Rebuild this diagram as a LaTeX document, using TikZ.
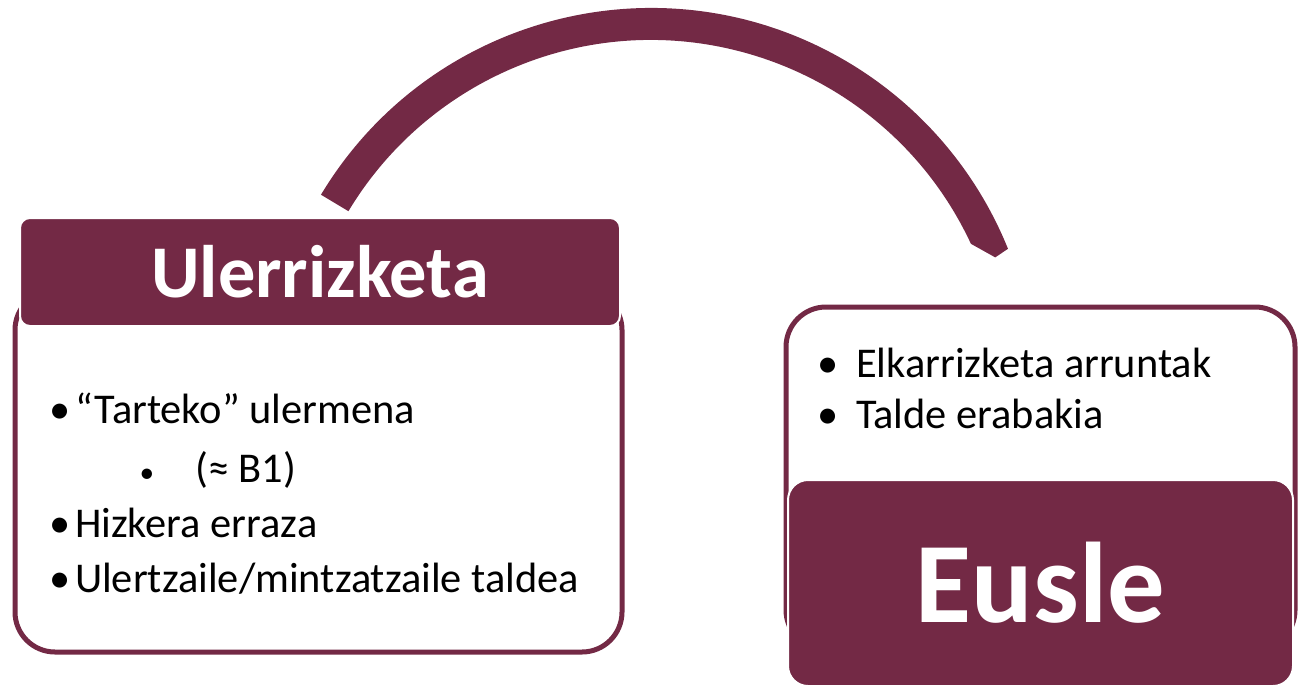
\documentclass[tikz,border=0pt]{standalone}
\usepackage{fontspec}
\setmainfont{Carlito}
\usepackage{tikz}
\usetikzlibrary{calc}

\definecolor{bordo}{RGB}{115,41,69}

\tikzset{
    panel/.style={draw=bordo, line width=3.75pt, rounded corners=30pt, fill=white},
    header/.style={draw=white, line width=1.5pt, fill=bordo, text=white, inner sep=0pt},
    item/.style={inner sep=0pt, font=\fontsize{31.8}{36}\selectfont},
    subbul/.style={inner sep=0pt, font=\fontsize{22}{24}\selectfont}
}
\newcommand{\bul}{•\kern3.5pt}

\begin{document}
\begin{tikzpicture}[x=0.75pt,y=0.75pt,yscale=-1,xscale=1]
    \useasboundingbox (0,0) rectangle (1301,686);
    %Shape: Block Arc
    \coordinate (ac) at (651,393);
    \fill[bordo] ($(ac)+(-149:385)$) arc[start angle=-149, end angle=-22, radius=385]
        -- ($(ac)+(-21.5:370)$) -- ($(ac)+(-25:353)$)
        arc[start angle=-25, end angle=-149, radius=353] -- cycle;
    %Rounded Rect: left panel
    \node[panel, minimum width=455.25pt, minimum height=271.5pt] (ulpanel) at (318.5,471) {};
    \node[header, rounded corners=7.5pt, minimum width=450pt, minimum height=81pt,
        font=\fontsize{55.8}{60}\selectfont\bfseries] (ulhead) at (320,272) {Ulerrizketa};
    %Rounded Rect: right panel
    \node[panel, minimum width=381.75pt, minimum height=257.25pt] (eupanel) at (1040.5,478.5) {};
    \node[header, rounded corners=15pt, minimum width=378.75pt, minimum height=154.5pt,
        font=\fontsize{86}{90}\selectfont\bfseries] (euhead) at (1040.5,583) {Eusle};
    % Text Node
    \node[item, anchor=base west] (ul1) at (49,423) {\bul“Tarteko” ulermena};
    \node[subbul, anchor=base] (ul2b) at (147,482) {•};
    \node[item, anchor=base west] (ul2) at (195,482) {(≈ B1)};
    \node[item, anchor=base west] (ul3) at (49,537) {\bul Hizkera erraza};
    \node[item, anchor=base west] (ul4) at (49,592) {\bul Ulertzaile/mintzatzaile taldea};
    % Text Node
    \node[item, anchor=base] (eu1b) at (828,377) {•};
    \node[item, anchor=base west] (eu1) at (856,377) {Elkarrizketa arruntak};
    \node[item, anchor=base] (eu2b) at (828,428) {•};
    \node[item, anchor=base west] (eu2) at (856,428) {Talde erabakia};
\end{tikzpicture}
\end{document}
